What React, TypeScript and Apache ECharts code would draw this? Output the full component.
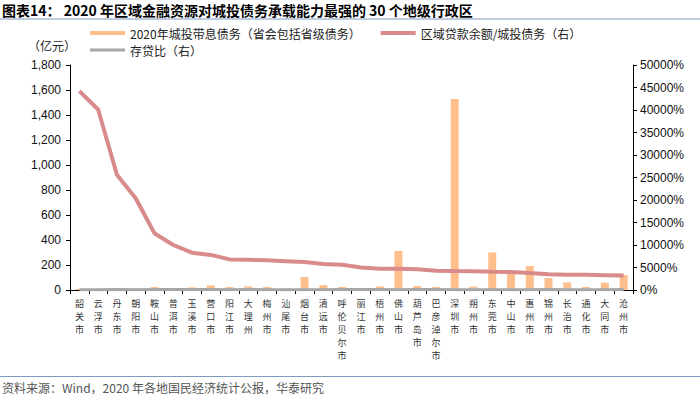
import React, { useEffect, useRef } from "react";
import * as echarts from "echarts";

const categories = [
  "韶关市", "云浮市", "丹东市", "朝阳市", "鞍山市", "普洱市", "玉溪市", "营口市", "阳江市", "大理州",
  "梅州市", "汕尾市", "烟台市", "清远市", "呼伦贝尔市", "丽江市", "梧州市", "佛山市", "葫芦岛市", "巴彦淖尔市",
  "深圳市", "朔州市", "东莞市", "中山市", "惠州市", "锦州市", "长治市", "通化市", "大同市", "沧州市",
];

const debtValues = [
  8, 6, 10, 12, 24, 10, 21, 37, 24, 29,
  24, 12, 104, 40, 24, 14, 29, 312, 32, 24,
  1528, 27, 301, 140, 192, 96, 61, 24, 59, 120,
];

const loanDebtRatio = [
  44200, 40100, 25600, 20400, 12600, 10000, 8300, 7800, 6800, 6700,
  6600, 6400, 6200, 5800, 5600, 5000, 4700, 4700, 4600, 4300,
  4200, 4150, 4070, 4000, 3800, 3500, 3400, 3400, 3300, 3200,
];

const loanDepositRatio = [
  75, 82, 95, 70, 88, 110, 92, 85, 78, 96,
  72, 68, 65, 80, 90, 105, 88, 70, 86, 98,
  68, 70, 62, 60, 75, 84, 66, 80, 72, 90,
];

const seriesNames = [
  "2020年城投带息债务（省会包括省级债务）",
  "区域贷款余额/城投债务（右）",
  "存贷比（右）",
];

const titleText = "图表14： 2020 年区域金融资源对城投债务承载能力最强的 30 个地级行政区";
const sourceText = "资料来源：Wind，2020 年各地国民经济统计公报，华泰研究";
const unitText = "（亿元）";

const CJK = "'Noto Sans CJK SC', 'Noto Sans', sans-serif";
const LAT = "'Liberation Sans', Arial, sans-serif";

export default function App() {
  const ref = useRef<HTMLDivElement>(null);

  useEffect(() => {
    if (!ref.current) return;
    const chart = echarts.init(ref.current, null, { renderer: "svg" });
    chart.setOption({
      animation: false,
      backgroundColor: "#ffffff",
      grid: { left: 70, right: 67, top: 65, bottom: 106, containLabel: false },
      legend: [
        {
          left: 90,
          top: 27,
          padding: 0,
          icon: "rect",
          itemWidth: 35,
          itemHeight: 4,
          itemGap: 20,
          data: [seriesNames[0], seriesNames[1]],
          textStyle: { fontFamily: CJK, fontSize: 12, color: "#222" },
        },
        {
          left: 90,
          top: 44,
          padding: 0,
          icon: "rect",
          itemWidth: 35,
          itemHeight: 3,
          data: [seriesNames[2]],
          textStyle: { fontFamily: CJK, fontSize: 12, color: "#222" },
        },
      ],
      xAxis: {
        type: "category",
        data: categories,
        axisLine: { show: true, lineStyle: { color: "#000", width: 1 } },
        axisTick: { show: true, length: 4, lineStyle: { color: "#000" } },
        axisLabel: {
          interval: 0,
          margin: 7,
          fontFamily: CJK,
          fontSize: 9,
          lineHeight: 13.1,
          color: "#333",
          formatter: (v: string) => v.split("").join("\n"),
          verticalAlign: "top",
        },
      },
      yAxis: [
        {
          type: "value",
          min: 0,
          max: 1800,
          interval: 200,
          axisLine: { show: true, lineStyle: { color: "#000" } },
          axisTick: { show: true, length: 4, lineStyle: { color: "#000" } },
          splitLine: { show: false },
          axisLabel: {
            margin: 9,
            fontFamily: LAT,
            fontSize: 12,
            color: "#111",
            formatter: (v: number) => v.toLocaleString("en-US"),
          },
        },
        {
          type: "value",
          position: "right",
          min: 0,
          max: 50000,
          interval: 5000,
          axisLine: { show: true, lineStyle: { color: "#000" } },
          axisTick: { show: true, length: 4, lineStyle: { color: "#000" } },
          splitLine: { show: false },
          axisLabel: {
            margin: 7,
            fontFamily: LAT,
            fontSize: 12,
            color: "#111",
            formatter: (v: number) => v + "%",
          },
        },
      ],
      series: [
        {
          name: seriesNames[0],
          type: "bar",
          yAxisIndex: 0,
          data: debtValues,
          barWidth: 8,
          itemStyle: { color: "#FFBF8C" },
        },
        {
          name: seriesNames[1],
          type: "line",
          yAxisIndex: 1,
          data: loanDebtRatio,
          symbol: "none",
          color: "#D98A8A",
          lineStyle: { color: "#D98A8A", width: 4 },
          itemStyle: { color: "#D98A8A" },
        },
        {
          name: seriesNames[2],
          type: "line",
          yAxisIndex: 1,
          data: loanDepositRatio,
          symbol: "none",
          color: "#A6A6A6",
          lineStyle: { color: "#A6A6A6", width: 3 },
          itemStyle: { color: "#A6A6A6" },
        },
      ],
      graphic: [
        {
          type: "text",
          left: 2,
          top: 3,
          style: {
            text: titleText,
            fontFamily: CJK,
            fontWeight: "bold",
            fontSize: 14,
            fill: "#000",
          },
        },
        {
          type: "line",
          shape: { x1: 0, y1: 19, x2: 700, y2: 19 },
          style: { stroke: "#7F9AC0", lineWidth: 1 },
        },
        {
          type: "text",
          left: 28,
          top: 39,
          style: { text: unitText, fontFamily: CJK, fontSize: 12, fill: "#222" },
        },
        {
          type: "line",
          shape: { x1: 0, y1: 376.5, x2: 700, y2: 376.5 },
          style: { stroke: "#7F9AC0", lineWidth: 1 },
        },
        {
          type: "text",
          left: 2,
          top: 381,
          style: { text: sourceText, fontFamily: CJK, fontSize: 12, fill: "#555" },
        },
      ],
    });
    return () => chart.dispose();
  }, []);

  return (
    <div
      ref={ref}
      style={{ position: "fixed", left: 0, top: 0, width: 700, height: 396, background: "#fff" }}
    />
  );
}
